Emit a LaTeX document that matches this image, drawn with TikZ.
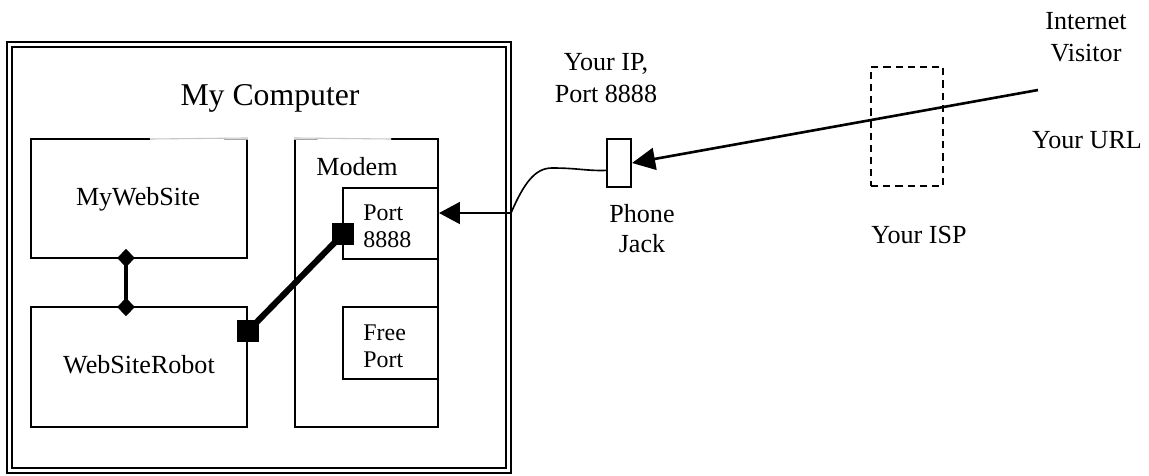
\documentclass[tikz,border=0pt]{standalone}
\usepackage{fontspec}
\setmainfont{Liberation Serif}
\usetikzlibrary{arrows.meta,shapes.geometric,fit}
\begin{document}
\begin{tikzpicture}[x=0.46pt,y=-0.46pt,
  box/.style={draw, line width=0.95pt, inner sep=0pt},
  lbl/.style={inner sep=0pt, align=center, font=\fontsize{12}{14.7}\selectfont},
  small/.style={inner sep=0pt, align=left, font=\fontsize{11}{12.4}\selectfont},
  dia/.style={diamond, fill=black, inner sep=0pt, minimum width=8.3pt, minimum height=8.6pt},
  sq/.style={rectangle, fill=black, inner sep=0pt, minimum size=10.1pt},
  topgap/.style={draw=gray!45, line width=0.5pt},
  wipe/.style={draw=white, line width=1.4pt},
  bigtip/.style={-{Triangle[length=9.6pt,width=10.1pt]}}
]
\useasboundingbox (0,0) rectangle (1149,475);
% computer frame
\node[draw, line width=0.7pt, inner sep=0pt, fit={(7,42)(511,473)}] (outer) {};
\node[draw, line width=0.95pt, inner sep=0pt, fit={(12,47)(506,468)}] (comp) {};
% boxes
\node[box, fit={(31,139)(247,258)}] (mws) {};
\node[box, fit={(31,307)(247,427)}] (robot) {};
\node[box, fit={(295,139)(438,427)}] (modem) {};
\node[box, fit={(343,188)(438,259)}] (port) {};
\node[box, fit={(343,307)(438,379)}] (free) {};
\node[box, fit={(607,139)(631,187)}] (jack) {};
\node[draw, dash pattern=on 3.3pt off 2.3pt, line width=0.9pt, inner sep=0pt, fit={(871,67)(943,186)}] (isp) {};
% light top segments
\coordinate (mwsgap) at (150,139);
\coordinate (modgap) at (391,139);
\path[wipe] (mwsgap) -- (mws.north east);
\path[topgap] (mwsgap) -- (mws.north east);
\path[wipe] (modem.north west) -- (modgap);
\path[topgap] (modem.north west) -- (modgap);
% texts (multi-line nodes: base = baseline of last line)
\node[lbl, anchor=base, font=\fontsize{14.6}{17}\selectfont] (tcomp) at (270,105) {My Computer};
\node[lbl, anchor=base] (tmws) at (138,205) {MyWebSite};
\node[lbl, anchor=base] (trobot) at (139,373) {WebSiteRobot};
\node[lbl, anchor=base west] (tmodem) at (316,175) {Modem};
\node[small, anchor=base west] (tport) at (363,247) {Port\\8888};
\node[small, anchor=base west] (tfree) at (363,367) {Free\\Port};
\node[lbl, anchor=base] (tip) at (606,102) {Your IP,\\Port 8888};
\node[lbl, anchor=base, font=\fontsize{12}{13.8}\selectfont] (tjack) at (642,252) {Phone\\Jack};
\node[lbl, anchor=base] (tvisitor) at (1086,61) {Internet\\Visitor};
\node[lbl, anchor=base] (turl) at (1087,148) {Your URL};
\node[lbl, anchor=base] (tisp) at (919,243) {Your ISP};
% internal connectors
\node[dia] (d1) at (126,258) {};
\node[dia] (d2) at (126,307) {};
\draw[line width=1.84pt] (d1.center) -- (d2.center);
\node[sq] (s1) at (248,331) {};
\node[sq] (s2) at (343,234) {};
\draw[line width=2.8pt] (s1.center) -- (s2.center);
% phone line
\coordinate (wall) at (511,213);
\draw[bigtip, line width=0.9pt] (wall) -- (port.east |- wall);
\draw[line width=0.75pt] (wall) .. controls (524,183) and (535,168) .. (552,168)
  .. controls (578,168) and (586,171) .. ([yshift=-3.4pt]jack.west);
% visitor
\coordinate (visitor) at (1038,90);
\draw[-{Triangle[length=10.6pt,width=10.1pt]}, line width=1.2pt] (visitor) -- (jack.east);
\end{tikzpicture}
\end{document}
